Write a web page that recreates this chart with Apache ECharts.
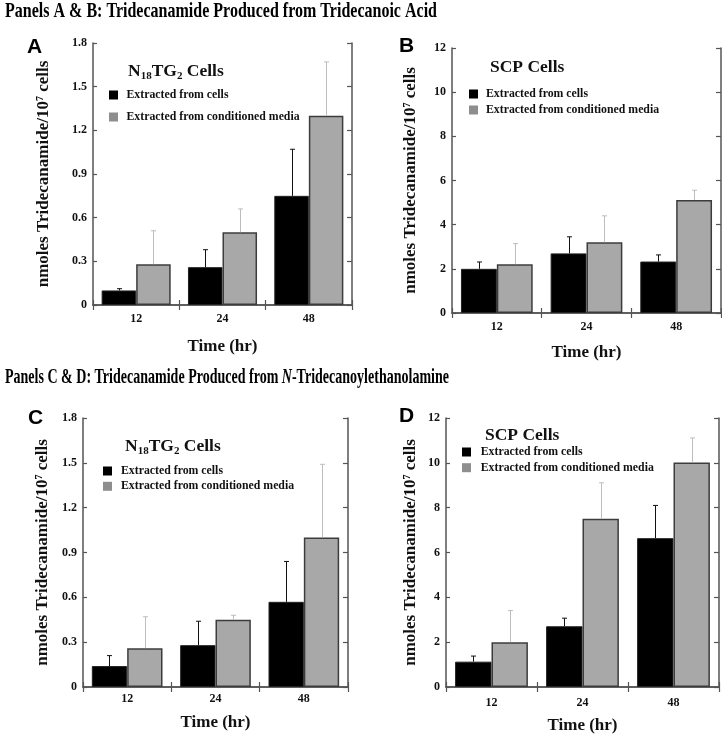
<!DOCTYPE html>
<html><head><meta charset="utf-8">
<script src="https://cdn.jsdelivr.net/npm/echarts@6/dist/echarts.min.js"></script>
<style>html,body{margin:0;padding:0;background:#fff}#c{width:722px;height:735px}</style>
</head><body><div id="c"></div>
<script>
// ---------- data ----------
const categories = ['12', '24', '48'];
const seriesNames = ['Extracted from cells', 'Extracted from conditioned media'];
const panelLetters = ['A', 'B', 'C', 'D'];
const panelTitles = ['N{sub|18}TG{sub|2} Cells', 'SCP Cells', 'N{sub|18}TG{sub|2} Cells', 'SCP Cells'];
const sectionTitle1 = 'Panels A & B: Tridecanamide Produced from Tridecanoic Acid';
const sectionTitle2a = 'Panels C & D: Tridecanamide Produced from ';
const sectionTitle2b = 'N';
const sectionTitle2c = '-Tridecanoylethanolamine';
const yAxisName = 'nmoles Tridecanamide/10{sup|7} cells';
const xAxisName = 'Time (hr)';
const yMaxSmall = 1.8, yStepSmall = 0.3;
const yMaxLarge = 12, yStepLarge = 2;

// Panel A (N18TG2, tridecanoic acid)
const aCells = [0.10, 0.26, 0.75];
const aCellsErrTop = [0.112, 0.38, 1.07];
const aMedia = [0.28, 0.50, 1.30];
const aMediaErrTop = [0.51, 0.66, 1.67];
// Panel B (SCP, tridecanoic acid)
const bCells = [2.0, 2.70, 2.33];
const bCellsErrTop = [2.31, 3.45, 2.63];
const bMedia = [2.21, 3.20, 5.12];
const bMediaErrTop = [3.14, 4.40, 5.56];
// Panel C (N18TG2, N-tridecanoylethanolamine)
const cCells = [0.14, 0.28, 0.57];
const cCellsErrTop = [0.21, 0.44, 0.84];
const cMedia = [0.26, 0.45, 1.00];
const cMediaErrTop = [0.47, 0.48, 1.49];
// Panel D (SCP, N-tridecanoylethanolamine)
const dCells = [1.13, 2.71, 6.64];
const dCellsErrTop = [1.38, 3.07, 8.10];
const dMedia = [2.00, 7.51, 10.01];
const dMediaErrTop = [3.41, 9.11, 11.11];

const panelData = [
  [aCells, aCellsErrTop, aMedia, aMediaErrTop, yMaxSmall, yStepSmall],
  [bCells, bCellsErrTop, bMedia, bMediaErrTop, yMaxLarge, yStepLarge],
  [cCells, cCellsErrTop, cMedia, cMediaErrTop, yMaxSmall, yStepSmall],
  [dCells, dCellsErrTop, dMedia, dMediaErrTop, yMaxLarge, yStepLarge]
];

// ---------- layout ----------
const layout = [
  {grid:{left:93, top:43, width:259, height:262}, yGap:41, xGap:33, lblM:8, leg:{l:109, t:89, g:10, p:3.5}, title:{x:128, b:77}, letter:{x:27, y:47.5}},
  {grid:{left:452, top:48, width:269, height:265}, yGap:33, xGap:31, lblM:8, leg:{l:469, t:88, g:4, p:3}, title:{x:490, b:73}, letter:{x:399, y:46.5}},
  {grid:{left:83, top:418, width:265, height:269}, yGap:32, xGap:27, lblM:6, leg:{l:103, t:465, g:3.3, p:4}, title:{x:125, b:452}, letter:{x:28, y:418}},
  {grid:{left:446, top:418, width:273, height:269}, yGap:27, xGap:30, lblM:10, leg:{l:462, t:446, g:3.7, p:4.7}, title:{x:485, b:441}, letter:{x:399, y:416}}
];

const SERIF = '"Liberation Serif", "Times New Roman", serif';
const SANS = '"Liberation Sans", Arial, sans-serif';
const AXIS_COLOR = '#555';
const GRAY = '#a8a8a8';

function errRenderer(side, color) {
  return function (params, api) {
    const idx = api.value(0), val = api.value(1), top = api.value(2);
    const band = api.size([1, 0])[0];
    const p0 = api.coord([idx, val]);
    const p1 = api.coord([idx, top]);
    const x = Math.round(p0[0] + side * band * 0.2) + 0.5;
    return {
      type: 'group',
      children: [
        {type: 'line', shape: {x1: x, y1: p0[1], x2: x, y2: p1[1]}, style: {stroke: color, lineWidth: 1}},
        {type: 'line', shape: {x1: x - 2.5, y1: p1[1], x2: x + 2.5, y2: p1[1]}, style: {stroke: color, lineWidth: 1}}
      ]
    };
  };
}

const grids = [], xAxes = [], yAxes = [], series = [], legends = [], graphics = [];

layout.forEach((L, g) => {
  const [cells, cellsTop, media, mediaTop, yMax, yStep] = panelData[g];
  grids.push(Object.assign({outerBoundsMode: 'none', containLabel: false}, L.grid));
  const axisLine = {show: true, lineStyle: {color: AXIS_COLOR, width: 1.5}};
  // bottom x
  xAxes.push({
    type: 'category', gridIndex: g, data: categories, position: 'bottom',
    axisLine, axisTick: {show: true, inside: true, length: 5, lineStyle: {color: AXIS_COLOR, width: 1.2}},
    axisLabel: {fontFamily: SERIF, fontWeight: 'bold', fontSize: 12, color: '#111', margin: L.lblM},
    name: xAxisName, nameLocation: 'middle', nameGap: L.xGap,
    nameTextStyle: {fontFamily: SERIF, fontWeight: 'bold', fontSize: 17, color: '#111'}
  });
  // top x (frame)
  xAxes.push({
    type: 'category', gridIndex: g, data: categories, position: 'top',
    axisLine, axisTick: {show: true, inside: true, length: 5, lineStyle: {color: AXIS_COLOR, width: 1.2}},
    axisLabel: {show: false}
  });
  // left y
  yAxes.push({
    type: 'value', gridIndex: g, min: 0, max: yMax, interval: yStep, position: 'left',
    axisLine, splitLine: {show: false},
    axisTick: {show: true, inside: true, length: 4, lineStyle: {color: AXIS_COLOR, width: 1.2}},
    axisLabel: {fontFamily: SERIF, fontWeight: 'bold', fontSize: 12, color: '#111', margin: 6,
      formatter: v => String(Math.round(v * 10) / 10)},
    name: yAxisName, nameLocation: 'middle', nameRotate: 90, nameGap: L.yGap,
    nameTextStyle: {fontFamily: SERIF, fontWeight: 'bold', fontSize: 17, color: '#111',
      rich: {sup: {fontFamily: SERIF, fontWeight: 'bold', fontSize: 10, lineHeight: 8, verticalAlign: 'top', color: '#111'}}}
  });
  // right y (frame)
  yAxes.push({
    type: 'value', gridIndex: g, min: 0, max: yMax, interval: yStep, position: 'right',
    axisLine, splitLine: {show: false},
    axisTick: {show: true, inside: true, length: 5, lineStyle: {color: AXIS_COLOR, width: 1.2}},
    axisLabel: {show: false}
  });
  const xi = 2 * g, yi = 2 * g;
  series.push({
    type: 'bar', name: seriesNames[0], xAxisIndex: xi, yAxisIndex: yi, data: cells,
    barWidth: '40%', barGap: '0%',
    itemStyle: {color: '#000', borderColor: '#222', borderWidth: 1}
  });
  series.push({
    type: 'bar', name: seriesNames[1], xAxisIndex: xi, yAxisIndex: yi, data: media,
    barWidth: '40%', barGap: '0%',
    itemStyle: {color: GRAY, borderColor: '#3c3c3c', borderWidth: 1.5}
  });
  series.push({
    type: 'custom', name: 'errCells' + g, xAxisIndex: xi, yAxisIndex: yi,
    renderItem: errRenderer(-1, '#111'),
    encode: {x: 0, y: [1, 2]},
    data: cells.map((v, i) => [i, v, cellsTop[i]]), z: 3
  });
  series.push({
    type: 'custom', name: 'errMedia' + g, xAxisIndex: xi, yAxisIndex: yi,
    renderItem: errRenderer(1, '#bdbdbd'),
    encode: {x: 0, y: [1, 2]},
    data: media.map((v, i) => [i, v, mediaTop[i]]), z: 3
  });
  legends.push({
    orient: 'vertical', left: L.leg.l, top: L.leg.t, itemWidth: 9, itemHeight: 9, itemGap: L.leg.g,
    selectedMode: false, icon: 'rect', padding: 0,
    textStyle: {fontFamily: SERIF, fontWeight: 'bold', fontSize: 11.8, color: '#111', lineHeight: 12, padding: [0, 0, 0, L.leg.p]},
    data: [
      {name: seriesNames[0], itemStyle: {color: '#000', borderWidth: 0}},
      {name: seriesNames[1], itemStyle: {color: '#8e8e8e', borderWidth: 0}}
    ]
  });
  // panel title
  graphics.push({
    type: 'text', x: L.title.x, y: L.title.b - 5.3,
    style: {
      text: panelTitles[g], fontFamily: SERIF, fontWeight: 'bold', fontSize: 17.5, fill: '#111',
      verticalAlign: 'middle', align: 'left', lineHeight: 20,
      rich: {sub: {fontFamily: SERIF, fontWeight: 'bold', fontSize: 11, lineHeight: 8, verticalAlign: 'bottom', fill: '#111'}}
    }
  });
  // panel letter
  graphics.push({
    type: 'text', x: L.letter.x, y: L.letter.y,
    style: {text: panelLetters[g], fontFamily: SANS, fontWeight: 'bold', fontSize: 21, fill: '#000', verticalAlign: 'middle', align: 'left'}
  });
});

// section titles (condensed bold serif)
const TFS = 22;
const mctx = document.createElement('canvas').getContext('2d');
mctx.font = 'bold ' + TFS + 'px ' + SERIF;
const w1 = mctx.measureText(sectionTitle1).width;
const w2 = mctx.measureText(sectionTitle2a).width + mctx.measureText(sectionTitle2c).width;
mctx.font = 'italic bold ' + TFS + 'px ' + SERIF;
const w2i = mctx.measureText(sectionTitle2b).width;
graphics.push({
  type: 'text', x: 5, y: 11.4, scaleX: 432 / w1,
  style: {text: sectionTitle1, fontFamily: SERIF, fontWeight: 'bold', fontSize: TFS, fill: '#000', verticalAlign: 'middle', align: 'left'}
});
graphics.push({
  type: 'text', x: 5, y: 377.4, scaleX: 444 / (w2 + w2i),
  style: {
    text: '{b|' + sectionTitle2a + '}{i|' + sectionTitle2b + '}{b|' + sectionTitle2c + '}',
    verticalAlign: 'middle', align: 'left',
    rich: {
      b: {fontFamily: SERIF, fontWeight: 'bold', fontSize: TFS, fill: '#000'},
      i: {fontFamily: SERIF, fontWeight: 'bold', fontStyle: 'italic', fontSize: TFS, fill: '#000'}
    }
  }
});

const chart = echarts.init(document.getElementById('c'), null, {renderer: 'canvas'});
chart.setOption({
  animation: false,
  backgroundColor: '#fff',
  grid: grids, xAxis: xAxes, yAxis: yAxes, series, legend: legends, graphic: graphics
});
</script></body></html>
